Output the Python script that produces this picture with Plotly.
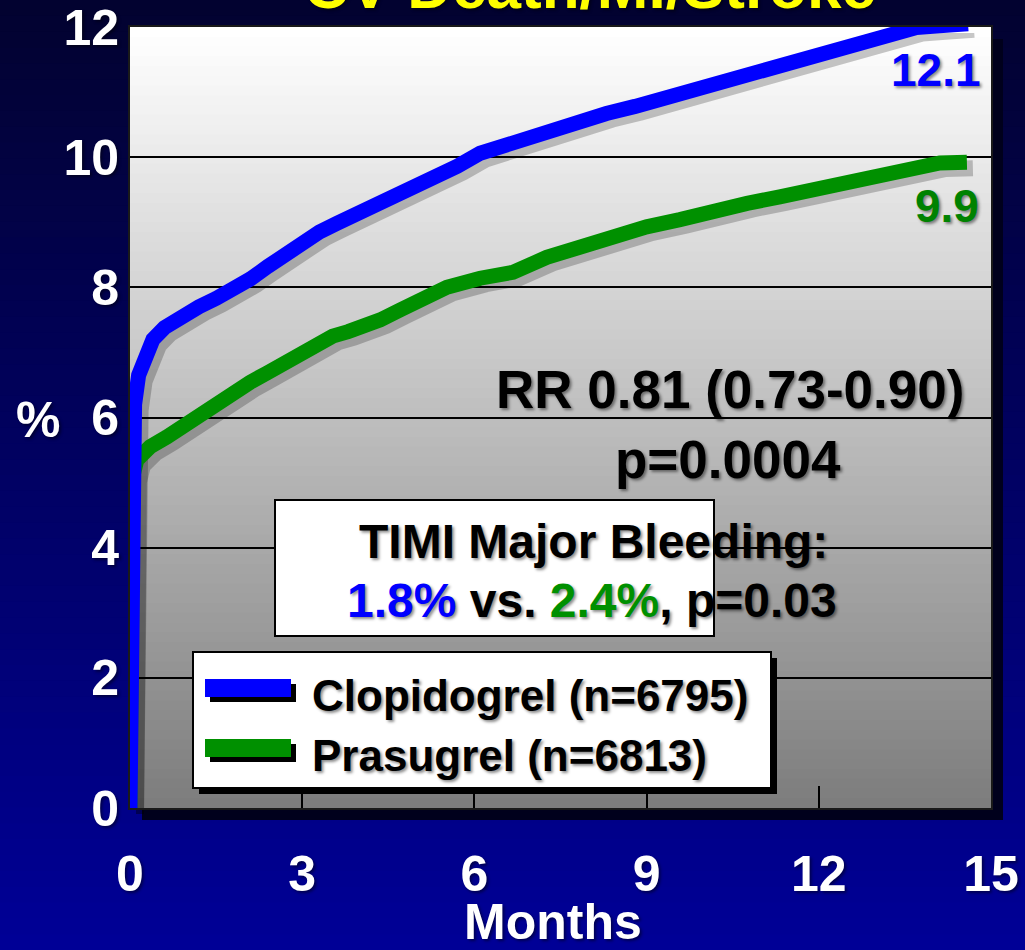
import plotly.graph_objects as go

# Kaplan-Meier style curves (months, %)
months_clopi = [0, 0.01, 0.02, 0.04, 0.08, 0.15, 0.25, 0.4, 0.6, 0.8, 1.0, 1.2, 1.5, 1.8,
                2.1, 2.4, 2.7, 3.0, 3.3, 3.6, 3.9, 4.2, 4.5, 4.9, 5.3, 5.7, 6.1, 6.5, 6.9,
                7.3, 7.8, 8.3, 8.8, 9.3, 9.8, 10.3, 10.8, 11.3, 11.8, 12.3, 12.8, 13.3,
                13.7, 14.1, 14.6]
pct_clopi = [0, 2.5, 4.5, 5.5, 6.2, 6.65, 6.95, 7.2, 7.38, 7.5, 7.58, 7.7, 7.83, 7.96,
             8.13, 8.32, 8.52, 8.7, 8.85, 8.98, 9.1, 9.23, 9.36, 9.52, 9.68, 9.86, 10.06,
             10.17, 10.28, 10.42, 10.58, 10.67, 10.78, 10.9, 11.03, 11.13, 11.27, 11.38,
             11.5, 11.62, 11.75, 11.9, 11.99, 12.02, 12.05]

months_pras = [0, 0.01, 0.02, 0.05, 0.12, 0.35, 0.64, 0.93, 1.22, 1.51, 1.8, 2.09, 2.38,
               2.7, 2.96, 3.25, 3.53, 3.8, 4.0, 4.36, 4.7, 4.93, 5.2, 5.52, 6.1, 6.67,
               7.26, 7.84, 8.41, 9.0, 9.58, 10.16, 10.75, 11.32, 11.9, 12.49, 13.07,
               13.64, 14.11, 14.58]
pct_pras = [0, 2.5, 4.6, 5.1, 5.35, 5.55, 5.7, 5.88, 6.04, 6.22, 6.39, 6.54, 6.68, 6.84,
            6.99, 7.12, 7.25, 7.32, 7.37, 7.5, 7.65, 7.76, 7.88, 8.0, 8.14, 8.23, 8.46,
            8.62, 8.8, 8.93, 9.04, 9.19, 9.29, 9.39, 9.49, 9.6, 9.72, 9.83, 9.91, 9.92]

x_ticks = [0, 3, 6, 9, 12, 15]
y_ticks = [0, 2, 4, 6, 8, 10, 12]
series_names = ["Clopidogrel (n=6795)", "Prasugrel (n=6813)"]
end_labels = ["12.1", "9.9"]
title_text = "CV Death/MI/Stroke"
stat_lines = ["RR 0.81 (0.73-0.90)", "p=0.0004"]
bleed_head = "TIMI Major Bleeding:"
bleed_vals = ["1.8%", "2.4%", "p=0.03"]

BLUE = "#0000ff"
GREEN = "#009000"
GREEN_TXT = "#008200"
FONT = "Liberation Sans, Arial, sans-serif"
SHADOW_TXT = "2px 2px 3px rgba(0,0,0,0.45)"

W, H = 1025, 950
L, R, T, B = 130, 26, 27, 134
PW, PH = W - L - R, H - T - B
SX, SY = 6, 6   # offset of the curve shadows, px


def fx(px):
    return (px - L) / PW


def fy(py):
    return (H - B - py) / PH


def mix(c0, c1, t):
    return "rgb(%d,%d,%d)" % tuple(round(a + (b - a) * t) for a, b in zip(c0, c1))


shapes = []
# page background gradient
n = 60
for i in range(n):
    y0, y1 = i * H / n, (i + 1) * H / n + 1
    shapes.append(dict(type="rect", xref="paper", yref="paper", layer="below",
                       x0=fx(0), x1=fx(W), y0=fy(y1), y1=fy(y0), line_width=0,
                       fillcolor=mix((2, 2, 48), (0, 0, 150), i / (n - 1))))
# plot area drop shadow
shapes.append(dict(type="rect", xref="paper", yref="paper", layer="below",
                   x0=fx(142), x1=fx(1003), y0=fy(820), y1=fy(39), line_width=0,
                   fillcolor="#00001c"))
# plot area gradient
n = 80
top, bot = 27, 808
for i in range(n):
    y0 = top + (bot - top) * i / n
    y1 = top + (bot - top) * (i + 1) / n + 0.8
    shapes.append(dict(type="rect", xref="paper", yref="paper", layer="below",
                       x0=fx(130), x1=fx(991), y0=fy(min(y1, bot)), y1=fy(y0), line_width=0,
                       fillcolor=mix((255, 255, 255), (125, 125, 125), i / (n - 1))))

# TIMI box
shapes.append(dict(type="rect", xref="paper", yref="paper", x0=fx(275), x1=fx(714),
                   y0=fy(636), y1=fy(500), fillcolor="white", line=dict(color="black", width=2)))
# legend box + shadow
shapes.append(dict(type="rect", xref="paper", yref="paper", x0=fx(199), x1=fx(777),
                   y0=fy(794), y1=fy(658), fillcolor="black", line_width=0))
shapes.append(dict(type="rect", xref="paper", yref="paper", x0=fx(193), x1=fx(771),
                   y0=fy(788), y1=fy(652), fillcolor="white", line=dict(color="black", width=2)))
for yc, col in [(688, BLUE), (748, GREEN)]:
    shapes.append(dict(type="rect", xref="paper", yref="paper", x0=fx(210), x1=fx(296),
                       y0=fy(yc + 14), y1=fy(yc - 4), fillcolor="black", line_width=0))
    shapes.append(dict(type="rect", xref="paper", yref="paper", x0=fx(205), x1=fx(291),
                       y0=fy(yc + 9), y1=fy(yc - 9), fillcolor=col, line_width=0))

fig = go.Figure()

# soft shadows under the curves (same data, on a shifted copy of the axes)
for xs, ys in [(months_pras, pct_pras), (months_clopi, pct_clopi)]:
    fig.add_trace(go.Scatter(x=xs, y=ys, mode="lines", xaxis="x", yaxis="y",
                             line=dict(color="rgba(0,0,0,0.22)", width=16),
                             hoverinfo="skip", showlegend=False, cliponaxis=False))

fig.add_trace(go.Scatter(x=months_pras, y=pct_pras, mode="lines", name=series_names[1],
                         xaxis="x2", yaxis="y2", line=dict(color=GREEN, width=15),
                         showlegend=False, cliponaxis=False))
fig.add_trace(go.Scatter(x=months_clopi, y=pct_clopi, mode="lines", name=series_names[0],
                         xaxis="x2", yaxis="y2", line=dict(color=BLUE, width=15),
                         showlegend=False, cliponaxis=False))


def txt(text, x, y, size, color="black", xanchor="center", shadow=SHADOW_TXT):
    return dict(text=text, x=fx(x), y=fy(y), xref="paper", yref="paper", showarrow=False,
                xanchor=xanchor, yanchor="middle",
                font=dict(family=FONT, size=size, color=color, weight="bold", shadow=shadow))


annotations = [
    txt(title_text, 590, -14, 62, "#ffff00"),
    txt("%", 38, 420, 50, "white"),
    txt("Months", 553, 922, 50, "white"),
    txt(end_labels[0], 983, 70, 46, BLUE, "right"),
    txt(end_labels[1], 981, 206, 46, GREEN_TXT, "right"),
    txt(stat_lines[0], 730, 389, 53),
    txt(stat_lines[1], 728, 459, 53),
    txt(bleed_head, 593, 541, 48),
    txt("<span style='color:%s'>%s</span> vs. <span style='color:%s'>%s</span>, %s"
        % (BLUE, bleed_vals[0], GREEN, bleed_vals[1], bleed_vals[2]), 592, 600, 48),
    txt(series_names[0], 310, 695, 44, xanchor="left"),
    txt(series_names[1], 310, 755, 44, xanchor="left"),
]

tick_font = dict(family=FONT, size=50, color="white", weight="bold", shadow=SHADOW_TXT)
fig.update_layout(
    width=W, height=H,
    margin=dict(l=L, r=R, t=T, b=B),
    paper_bgcolor="#000033",
    plot_bgcolor="rgba(0,0,0,0)",
    shapes=shapes,
    annotations=annotations,
    showlegend=False,
    xaxis=dict(range=[0, 15], visible=False, automargin=False,
               domain=[SX / PW, (SX + 861) / PW]),
    yaxis=dict(range=[0, 12], visible=False, automargin=False,
               domain=[(8 - SY) / PH, (789 - SY) / PH]),
    xaxis2=dict(range=[0, 15], domain=[0, 861 / PW], anchor="y2", automargin=False,
                tickvals=x_ticks, ticks="inside", ticklen=22, tickwidth=2, tickcolor="black",
                showgrid=False, zeroline=False, showline=True, mirror=True,
                linecolor="#1a1a1a", linewidth=2, ticklabelstandoff=21,
                ticklabeloverflow="allow", tickfont=tick_font),
    yaxis2=dict(range=[0, 12], domain=[8 / PH, 1], anchor="x2", automargin=False,
                tickvals=y_ticks, ticks="", showgrid=True, gridcolor="black", gridwidth=2,
                zeroline=False, showline=True, mirror=True, linecolor="#1a1a1a", linewidth=2,
                ticklabelstandoff=-1, ticklabeloverflow="allow", tickfont=tick_font),
)

fig.write_html("out.html", config={"displayModeBar": False},
               post_script="document.body.style.margin='0';")
